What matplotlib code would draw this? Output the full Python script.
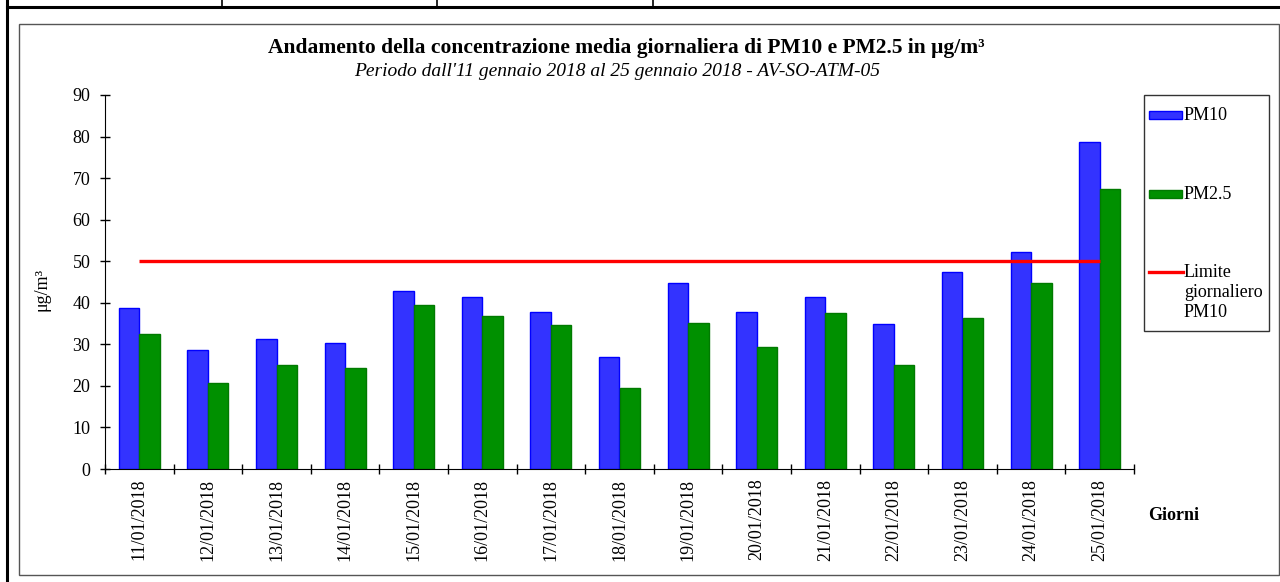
import matplotlib.pyplot as plt
import numpy as np
from matplotlib.patches import Rectangle
from matplotlib.lines import Line2D

plt.rcParams['font.family'] = ['Liberation Serif', 'DejaVu Serif']

giorni = ["11/01/2018", "12/01/2018", "13/01/2018", "14/01/2018", "15/01/2018",
          "16/01/2018", "17/01/2018", "18/01/2018", "19/01/2018", "20/01/2018",
          "21/01/2018", "22/01/2018", "23/01/2018", "24/01/2018", "25/01/2018"]
pm10 = [38.8, 28.6, 31.3, 30.4, 42.8, 41.3, 37.7, 27.0, 44.7, 37.7,
        41.3, 34.8, 47.5, 52.3, 78.6]
pm25 = [32.5, 20.8, 25.0, 24.4, 39.5, 36.8, 34.6, 19.5, 35.1, 29.4,
        37.5, 25.0, 36.4, 44.7, 67.5]
limite = 50

W, H = 1280, 582
fig = plt.figure(figsize=(W / 100, H / 100), dpi=100)


def px(x, y):
    return x / W, 1 - y / H


# page / table lines around the chart
fig.add_artist(Line2D([px(7, 0)[0], px(7, 0)[0]], [0, 1], color='black', lw=2.2))
fig.add_artist(Line2D([px(7, 0)[0], 1], [px(0, 7)[1]] * 2, color='black', lw=2.2))
for xv in [222, 437, 653]:
    fig.add_artist(Line2D([px(xv, 0)[0]] * 2, [1, px(0, 7)[1]], color='black', lw=1.2))
# chart frame
fig.add_artist(Rectangle(px(19, 575), (1279 - 19) / W, (575 - 24) / H,
                         fill=False, edgecolor='#555555', lw=1.0))

ax = fig.add_axes([105 / W, 1 - 469 / H, (1134 - 105) / W, (469 - 95) / H])

x = np.arange(len(giorni))
w = 0.3
ax.bar(x - w / 2, pm10, width=w, color='#3333ff', edgecolor='#0000ff', lw=1.0)
ax.bar(x + w / 2, pm25, width=w, color='#009000', edgecolor='#007a00', lw=1.0)
ax.plot([x[0], x[-1]], [limite, limite], color='#ff0000', lw=2.4,
        solid_capstyle='butt')

ax.set_xlim(-0.5, len(giorni) - 0.5)
ax.set_ylim(0, 90)
ax.set_yticks(np.arange(0, 91, 10))
ax.set_xticks(x)
ax.set_xticklabels(giorni, rotation=90, fontsize=13)
ax.set_xticks(np.arange(-0.5, len(giorni)), minor=True)
ax.tick_params(axis='x', which='major', length=0, pad=7)
ax.tick_params(axis='x', which='minor', direction='inout', length=7, width=1)
ax.tick_params(axis='y', direction='inout', length=7, width=1, labelsize=13, pad=7)
for s in ['top', 'right']:
    ax.spines[s].set_visible(False)

ax.set_ylabel('μg/m³', fontsize=13)
ax.yaxis.set_label_coords(-0.053, 0.48)

fig.text(*px(626, 48), "Andamento della concentrazione media giornaliera di PM10 e PM2.5 in μg/m³",
         ha='center', va='center', fontsize=15.5, fontweight='bold')
fig.text(*px(617, 71), "Periodo dall'11 gennaio 2018 al 25 gennaio 2018 - AV-SO-ATM-05",
         ha='center', va='center', fontsize=14, style='italic')
fig.text(*px(1148, 516), "Giorni", ha='left', va='center', fontsize=13, fontweight='bold')

# legend box
fig.add_artist(Rectangle(px(1144, 331), (1269 - 1144) / W, (331 - 95) / H,
                         fill=False, edgecolor='#333333', lw=1.0))
fig.add_artist(Rectangle(px(1149, 119), 33 / W, 8 / H,
                         facecolor='#3333ff', edgecolor='#0000ff', lw=1.0))
fig.add_artist(Rectangle(px(1149, 198), 33 / W, 8 / H,
                         facecolor='#009000', edgecolor='#007a00', lw=1.0))
fig.add_artist(Line2D([px(1149, 0)[0], px(1183, 0)[0]], [px(0, 272)[1]] * 2,
                      color='#ff0000', lw=2.4))
fig.text(*px(1184, 116), "PM10", ha='left', va='center', fontsize=13)
fig.text(*px(1184, 195), "PM2.5", ha='left', va='center', fontsize=13)
fig.text(*px(1184, 264), "Limite\ngiornaliero\nPM10", ha='left', va='top',
         fontsize=13, linespacing=1.25)

fig.savefig('out.png', dpi=100)
